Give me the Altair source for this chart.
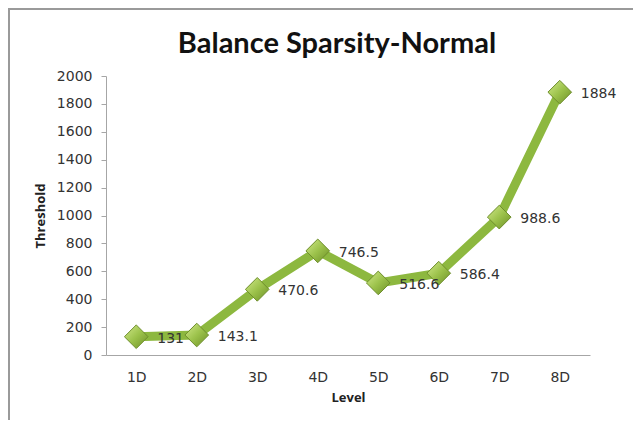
import altair as alt
import pandas as pd

levels = ["1D", "2D", "3D", "4D", "5D", "6D", "7D", "8D"]
thresholds = [131, 143.1, 470.6, 746.5, 516.6, 586.4, 988.6, 1884]
y_ticks = [0, 200, 400, 600, 800, 1000, 1200, 1400, 1600, 1800, 2000]
chart_title = "Balance Sparsity-Normal"

df = pd.DataFrame({"Level": levels, "Threshold": thresholds})

x_enc = alt.X("Level:N", sort=levels,
              scale=alt.Scale(type="point", padding=0.5),
              axis=alt.Axis(title="Level", labelAngle=0, ticks=False,
                            domainColor="#A6A6A6", labelPadding=15,
                            labelFont="DejaVu Sans", labelFontSize=14,
                            labelColor="#333333", titleFont="Open Sans",
                            titleFontSize=13, titleFontWeight="bold",
                            titlePadding=7, titleColor="#222222"))
y_enc = alt.Y("Threshold:Q", scale=alt.Scale(domain=[0, 2000], nice=False),
              axis=alt.Axis(title="Threshold", values=y_ticks, grid=False,
                            format="d",
                            domainColor="#A6A6A6", tickColor="#A6A6A6",
                            tickSize=5, labelPadding=9,
                            labelFont="DejaVu Sans", labelFontSize=14,
                            labelColor="#333333", titleFont="Open Sans",
                            titleFontSize=13, titleFontWeight="bold",
                            titlePadding=9, titleColor="#222222"))

base = alt.Chart(df)

line = base.mark_line(color="#8DB83F", strokeWidth=9, strokeJoin="round").encode(x=x_enc, y=y_enc)

points = base.mark_point(
    shape="diamond", size=560, filled=True, opacity=1,
    fill={"gradient": "linear", "x1": 0, "y1": 0, "x2": 1, "y2": 1,
          "stops": [{"offset": 0, "color": "#D2EA8C"},
                    {"offset": 0.5, "color": "#9CC24B"},
                    {"offset": 1, "color": "#6C8F26"}]},
    stroke="#6E8E2C", strokeWidth=1,
).encode(x=x_enc, y=y_enc)

labels = base.mark_text(align="left", baseline="middle", dx=21, dy=2,
                        font="DejaVu Sans", fontSize=14, color="#333333").encode(
    x=x_enc, y=y_enc, text=alt.Text("Threshold:Q"))

title_df = pd.DataFrame({"t": [chart_title]})
title_mark = alt.Chart(title_df).mark_text(
    font="Lato", fontSize=29, fontWeight="bold", color="#111111",
    align="center", baseline="middle").encode(
    x=alt.value(231), y=alt.value(-32), text="t:N")

border_left = alt.Chart(df).mark_rule(color="#9A9A9A", strokeWidth=2).encode(
    x=alt.value(-97), y=alt.value(-68), y2=alt.value(360))
border_top = alt.Chart(df).mark_rule(color="#9A9A9A", strokeWidth=2).encode(
    x=alt.value(-97), x2=alt.value(540), y=alt.value(-67))

chart = alt.layer(border_left, border_top, line, points, labels, title_mark).properties(
    width=484, height=279,
    autosize=alt.AutoSizeParams(type="none"),
    padding={"left": 98, "top": 68, "right": 43, "bottom": 65},
).configure_view(stroke=None)

chart.save("out.html", embed_options={"renderer": "svg", "actions": False})
